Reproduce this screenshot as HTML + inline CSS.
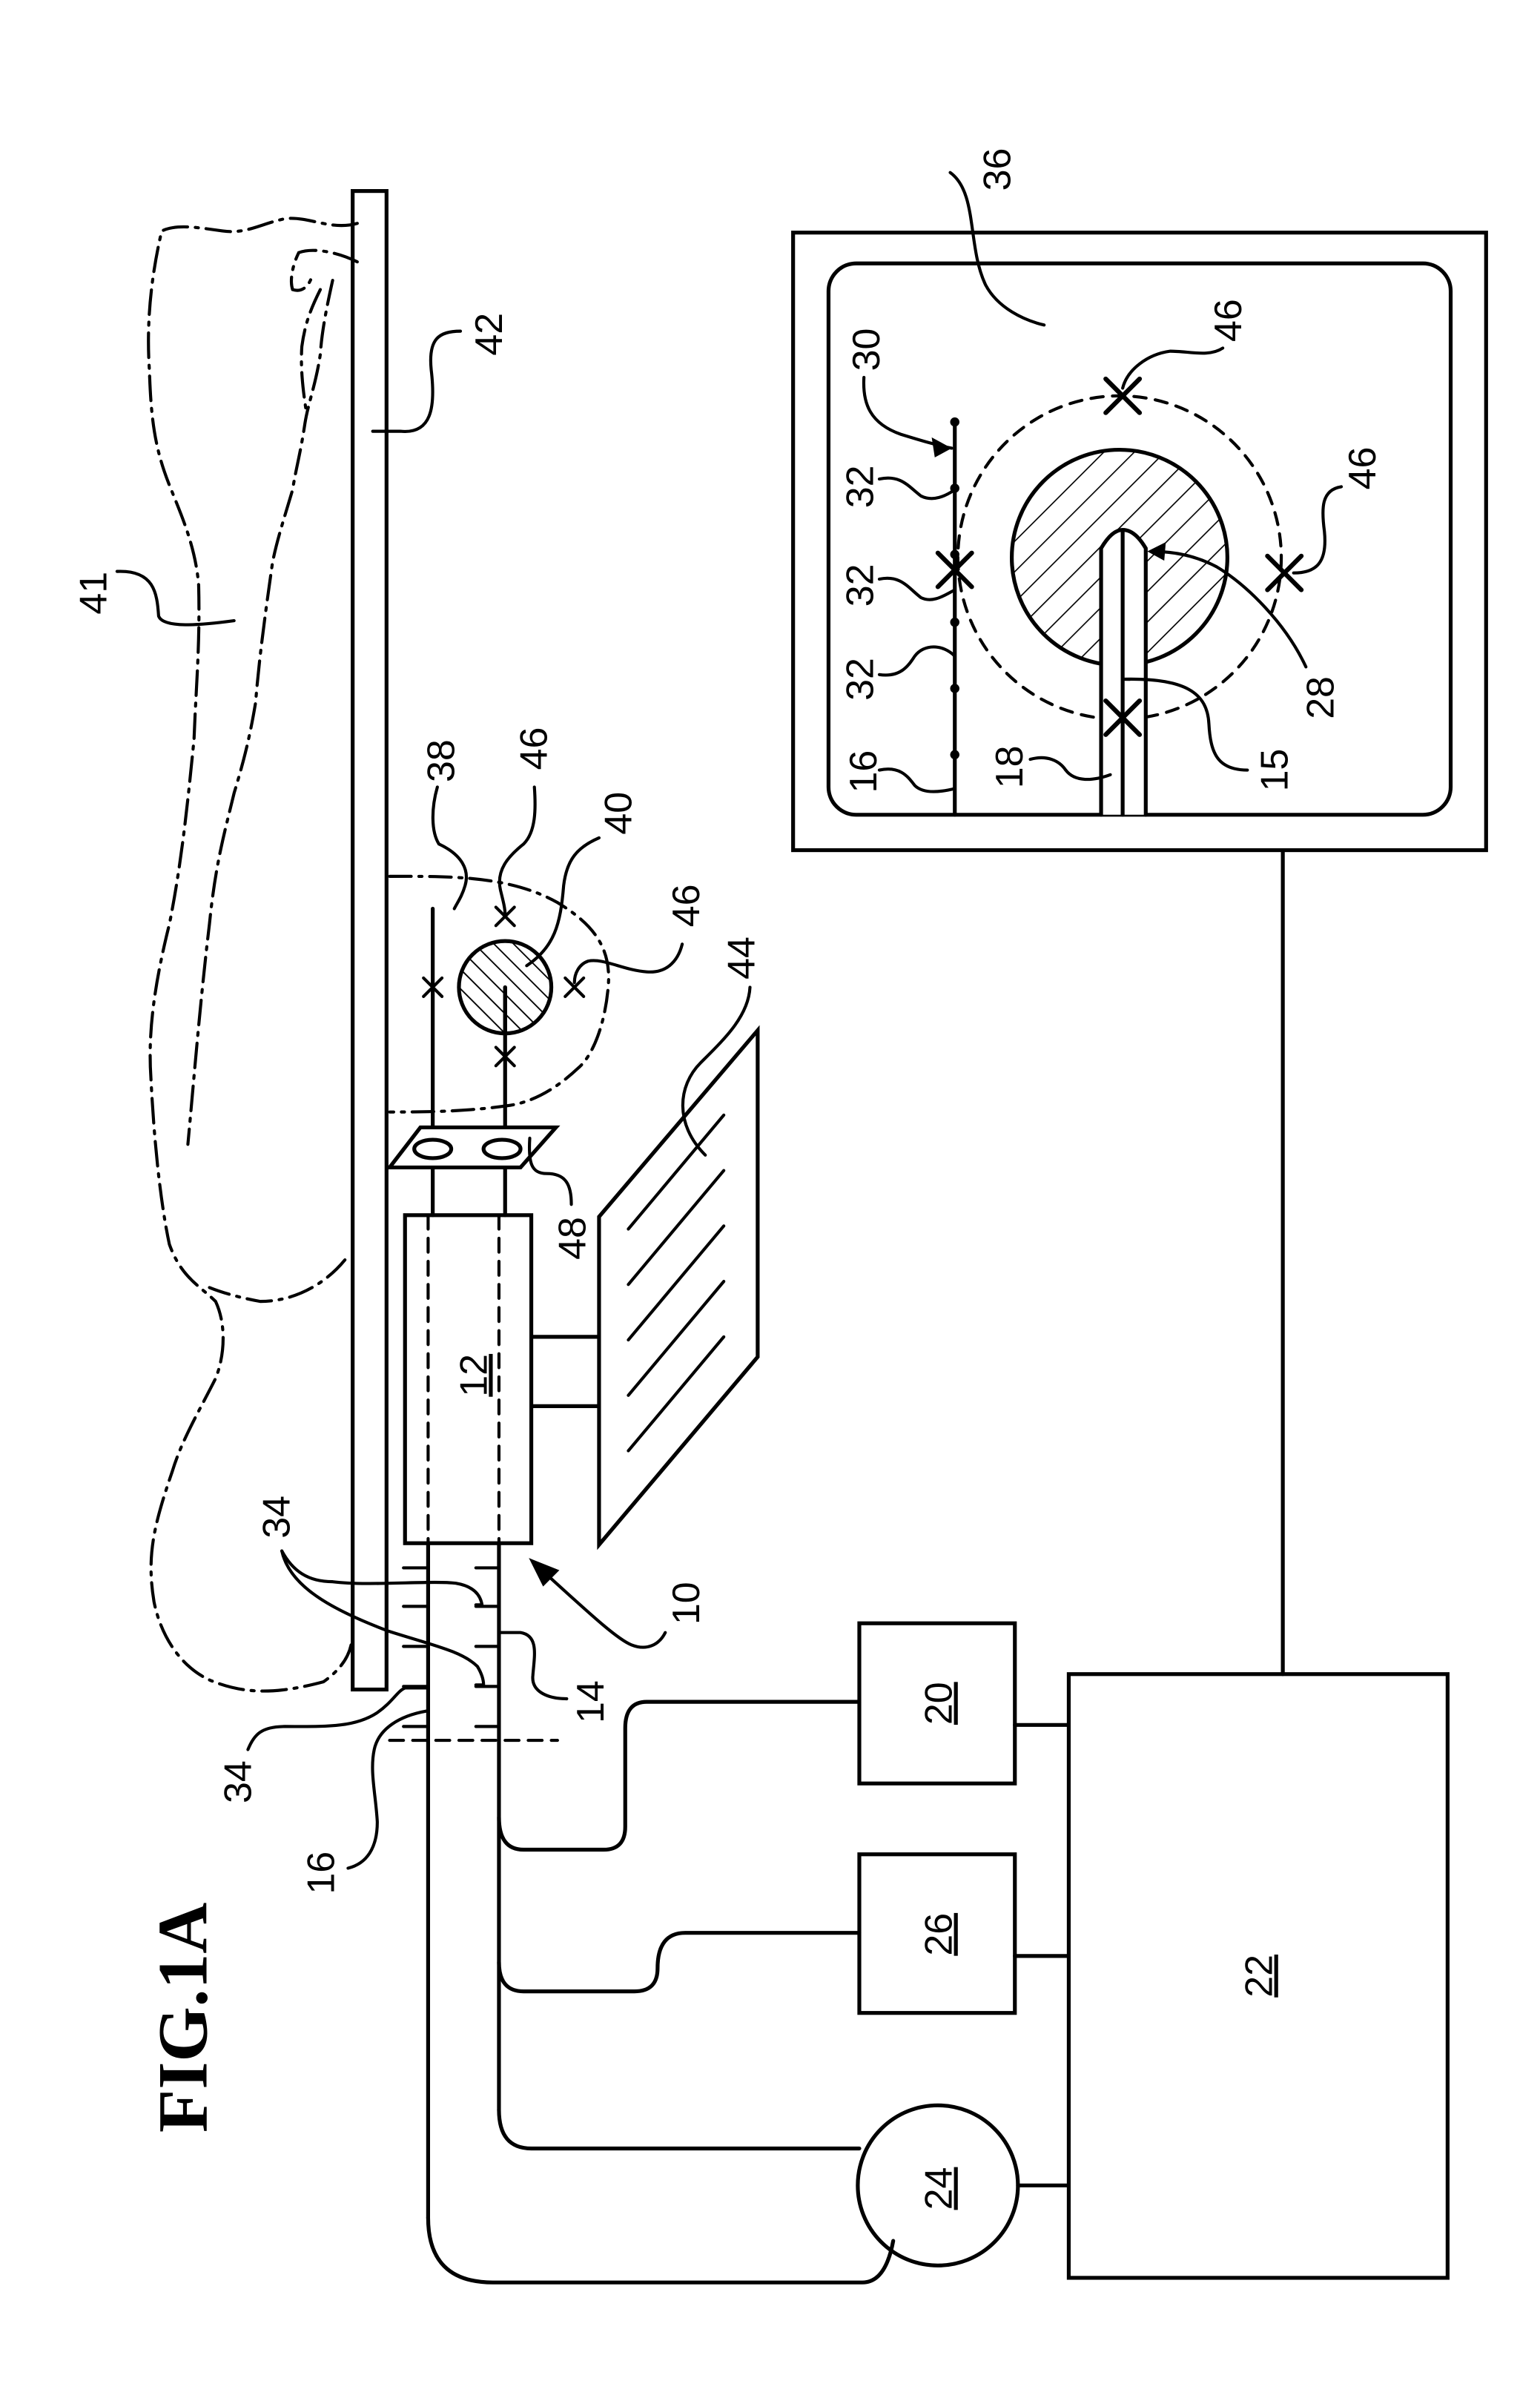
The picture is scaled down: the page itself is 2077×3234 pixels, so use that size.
<!DOCTYPE html>
<html><head><meta charset="utf-8"><style>
html,body{margin:0;padding:0;background:#fff;}
svg{display:block;}
text{font-family:"Liberation Sans",sans-serif;font-size:25px;fill:#000;}
</style></head><body>
<svg width="2077" height="3234" viewBox="0 0 1000 1557" xmlns="http://www.w3.org/2000/svg">
<defs>
<pattern id="h" patternUnits="userSpaceOnUse" width="9" height="9" patternTransform="rotate(-45)">
<line x1="0" y1="0" x2="0" y2="9" stroke="#000" stroke-width="1.8"/></pattern>
<pattern id="h2" patternUnits="userSpaceOnUse" width="14" height="14" patternTransform="rotate(45)">
<line x1="0" y1="0" x2="0" y2="14" stroke="#000" stroke-width="1.6"/></pattern>
</defs>
<g fill="none" stroke="#000" stroke-width="2.5" stroke-linecap="round">
<g stroke-dasharray="16,5,2,5" stroke-width="2">
<path d="M232,145 C215,150 200,140 185,142 C170,145 160,152 145,150 C130,148 115,145 105,150 C98,180 95,210 97,240 C98,270 100,290 110,315 C118,335 127,355 129,380 C130,420 127,450 126,480 C122,520 118,560 110,600 C100,640 96,671 98,700 C100,740 104,780 110,808 C118,830 130,835 140,845 C147,860 146,880 140,895 C130,915 118,935 112,955 C100,990 95,1010 100,1040 C105,1065 120,1085 139,1092 C160,1100 180,1100 210,1092 C220,1085 226,1077 228,1068"/>
<path d="M232,170 C222,165 205,160 194,164 C190,172 188,182 190,188 C196,190 200,186 202,181"/>
<path d="M216,182 C212,200 209,215 208,230 C205,250 200,262 198,275 C195,295 192,305 190,318 C185,335 180,350 177,365 C172,400 168,430 166,456 C162,480 158,495 152,515 C146,540 140,560 136,600 C130,650 126,700 122,743"/>
<path d="M208,188 C202,200 198,210 196,225 C195,240 197,255 199,268"/>
<path d="M224,818 C210,835 190,845 169,845 C158,843 146,840 136,836"/>
</g>
<rect x="229" y="124" width="22" height="973"/>
<path d="M299,215 C285,215 278,220 280,240 C283,265 280,282 260,280 L242,280" stroke-width="2"/>
<path d="M76,371 C100,370 102,385 103,400 C106,408 130,406 152,403" stroke-width="2"/>
<path d="M253,569 C290,569 330,568 362,586 C385,600 397,615 395,640 C393,665 385,685 376,693 C360,708 345,716 329,718 C300,722 275,722 253,722" stroke-dasharray="14,5,2,5" stroke-width="2"/>
<line x1="281" y1="590" x2="281" y2="789"/>
<line x1="328" y1="641" x2="328" y2="789"/>
<circle cx="328" cy="641" r="30" fill="url(#h)"/>
<line x1="328" y1="641" x2="328" y2="671"/>
<path d="M275,635 L287,647 M275,647 L287,635 M322,589 L334,601 M322,601 L334,589 M367,635 L379,647 M367,647 L379,635 M322,680 L334,692 M322,692 L334,680" stroke-width="2"/>
<path d="M284,511 C280,525 280,540 285,548 C300,555 305,565 302,575 C300,582 297,586 295,590" stroke-width="2"/>
<path d="M347,511 C348,525 348,540 340,548 C330,556 322,565 325,578 C327,586 328,590 328,594" stroke-width="2"/>
<path d="M389,544 C375,550 368,558 366,575 C364,600 360,615 342,627" stroke-width="2"/>
<path d="M443,613 C440,625 432,632 420,631 C405,630 392,622 382,624 C376,626 373,632 373,638" stroke-width="2"/>
<polygon points="273,732 361,732 338,758 253,758" fill="#fff"/>
<ellipse cx="281" cy="746" rx="12" ry="6"/><ellipse cx="326" cy="746" rx="12" ry="6"/>
<path d="M344,739 C343,755 345,762 355,762 C368,762 371,770 371,782" stroke-width="2"/>
<rect x="263" y="789" width="82" height="213"/>
<line x1="278" y1="789" x2="278" y2="1002" stroke-dasharray="9,6" stroke-width="2"/>
<line x1="324" y1="789" x2="324" y2="1002" stroke-dasharray="9,6" stroke-width="2"/>
<path d="M345,868 H389 M345,913 H389"/>
<polygon points="389,790 492,669 492,881 389,1003" fill="#fff"/>
<path d="M408,798 L470,724 M408,834 L470,760 M408,870 L470,796 M408,906 L470,832 M408,942 L470,868" stroke-width="2"/>
<path d="M487,641 C486,660 470,675 455,690 C440,705 438,730 458,750" stroke-width="2"/>
<line x1="278" y1="1002" x2="278" y2="1440"/>
<line x1="324" y1="1002" x2="324" y2="1370"/>
<path d="M262,1018 H278 M262,1043 H278 M262,1069 H278 M262,1095 H278 M262,1121 H278 M309,1018 H324 M309,1043 H324 M309,1069 H324 M309,1095 H324 M309,1121 H324" stroke-width="2"/>
<line x1="253" y1="1130" x2="362" y2="1130" stroke-dasharray="9,6" stroke-width="2"/>
<path d="M183,1007 C190,1020 200,1027 216,1027 C240,1030 280,1026 296,1028 C308,1030 312,1036 313,1042 L309,1042" stroke-width="2"/>
<path d="M183,1007 C188,1030 215,1045 252,1059 C280,1068 300,1072 310,1082 C313,1087 314,1091 314,1094 L309,1094" stroke-width="2"/>
<path d="M161,1136 C165,1126 170,1121 185,1121 C210,1121 230,1122 245,1112 C255,1105 258,1098 263,1096 L278,1096" stroke-width="2"/>
<path d="M226,1213 C238,1210 245,1200 245,1183 C244,1165 240,1150 243,1136 C246,1122 260,1114 277,1111" stroke-width="2"/>
<path d="M368,1103 C355,1103 345,1098 346,1088 C347,1075 350,1062 338,1060 L324,1060" stroke-width="2"/>
<path d="M432,1060 C428,1068 420,1072 410,1068 C400,1064 380,1045 348,1016" stroke-width="2"/>
<polygon points="346,1014 361,1020 353,1028" fill="#000"/>
<path d="M278,1440 Q278,1482 320,1482 H560 Q575,1482 580,1455"/>
<path d="M324,1370 Q324,1395 345,1395 H558"/>
<path d="M324,1274 Q324,1293 340,1293 H412 Q427,1293 427,1278 Q427,1255 445,1255 H558"/>
<path d="M324,1180 Q324,1201 340,1201 H392 Q406,1201 406,1186 V1122 Q406,1105 420,1105 H558"/>
<rect x="558" y="1054" width="101" height="104"/>
<rect x="558" y="1204" width="101" height="103"/>
<circle cx="609" cy="1419" r="52"/>
<rect x="694" y="1087" width="246" height="392"/>
<path d="M659,1120 H694 M659,1270 H694 M661,1419 H694 M833,552 V1087"/>
<rect x="515" y="151" width="450" height="401"/>
<rect x="538" y="171" width="404" height="358" rx="18"/>
<circle cx="727" cy="362" r="105" stroke-dasharray="8,6" stroke-width="2"/>
<circle cx="727" cy="362" r="70" fill="url(#h2)"/>
<line x1="620" y1="274" x2="620" y2="529"/>
<path d="M715,529 V356 Q722,344 729,344 Q737,344 744,356 V529 M729,529 V344" fill="#fff"/>
<path d="M609,359 L631,381 M609,381 L631,359 M718,246 L740,268 M718,268 L740,246 M823,361 L845,383 M823,383 L845,361 M718,455 L740,477 M718,477 L740,455" stroke-width="3"/>
<path d="M617,112 C635,125 628,160 640,185 C648,200 665,208 678,211" stroke-width="2"/>
<path d="M794,226 C785,232 772,228 760,228 C745,230 732,240 729,252" stroke-width="2"/>
<path d="M871,316 C858,318 858,330 860,345 C862,365 855,372 840,372" stroke-width="2"/>
<path d="M561,245 C560,262 565,275 585,282 C598,286 608,289 618,291" stroke-width="2"/>
<path d="M571,311 C585,308 590,316 598,322 C606,326 614,322 620,318" stroke-width="2"/>
<path d="M571,376 C585,373 590,382 598,388 C606,392 614,386 620,383" stroke-width="2"/>
<path d="M571,438 C585,440 590,432 594,426 C600,418 612,418 620,426" stroke-width="2"/>
<path d="M571,500 C585,497 590,505 594,510 C600,516 612,514 620,512" stroke-width="2"/>
<path d="M669,493 C680,490 688,494 692,500 C698,508 710,507 721,503" stroke-width="2"/>
<path d="M810,500 C790,500 786,488 785,470 C784,450 770,440 729,441" stroke-width="2"/>
<path d="M848,433 C835,405 810,380 790,368 C775,360 760,358 748,358" stroke-width="2"/>
</g>
<polygon points="618,291 605,284 607,297" fill="#000"/>
<polygon points="745,358 757,352 756,364" fill="#000"/>
<circle cx="620" cy="274" r="3"/><circle cx="620" cy="317" r="3"/><circle cx="620" cy="360" r="3"/><circle cx="620" cy="404" r="3"/><circle cx="620" cy="447" r="3"/><circle cx="620" cy="490" r="3"/>
<g>
<text transform="translate(656,110) rotate(-90)" text-anchor="middle">36</text>
<text transform="translate(806,208) rotate(-90)" text-anchor="middle">46</text>
<text transform="translate(893,304) rotate(-90)" text-anchor="middle">46</text>
<text transform="translate(571,227) rotate(-90)" text-anchor="middle">30</text>
<text transform="translate(567,316) rotate(-90)" text-anchor="middle">32</text>
<text transform="translate(567,380) rotate(-90)" text-anchor="middle">32</text>
<text transform="translate(567,441) rotate(-90)" text-anchor="middle">32</text>
<text transform="translate(569,501) rotate(-90)" text-anchor="middle">16</text>
<text transform="translate(664,498) rotate(-90)" text-anchor="middle">18</text>
<text transform="translate(836,500) rotate(-90)" text-anchor="middle">15</text>
<text transform="translate(866,453) rotate(-90)" text-anchor="middle">28</text>
<text transform="translate(69,385) rotate(-90)" text-anchor="middle">41</text>
<text transform="translate(326,217) rotate(-90)" text-anchor="middle">42</text>
<text transform="translate(295,494) rotate(-90)" text-anchor="middle">38</text>
<text transform="translate(355,486) rotate(-90)" text-anchor="middle">46</text>
<text transform="translate(410,528) rotate(-90)" text-anchor="middle">40</text>
<text transform="translate(454,588) rotate(-90)" text-anchor="middle">46</text>
<text transform="translate(490,622) rotate(-90)" text-anchor="middle">44</text>
<text transform="translate(380,804) rotate(-90)" text-anchor="middle">48</text>
<text transform="translate(188,985) rotate(-90)" text-anchor="middle">34</text>
<text transform="translate(163,1157) rotate(-90)" text-anchor="middle">34</text>
<text transform="translate(217,1216) rotate(-90)" text-anchor="middle">16</text>
<text transform="translate(392,1105) rotate(-90)" text-anchor="middle">14</text>
<text transform="translate(454,1041) rotate(-90)" text-anchor="middle">10</text>
<text transform="translate(316,893) rotate(-90)" text-anchor="middle" text-decoration="underline">12</text>
<text transform="translate(618,1106) rotate(-90)" text-anchor="middle" text-decoration="underline">20</text>
<text transform="translate(618,1256) rotate(-90)" text-anchor="middle" text-decoration="underline">26</text>
<text transform="translate(618,1421) rotate(-90)" text-anchor="middle" text-decoration="underline">24</text>
<text transform="translate(826,1283) rotate(-90)" text-anchor="middle" text-decoration="underline">22</text>
<text transform="translate(134,1310) rotate(-90)" text-anchor="middle" style="font-family:'Liberation Serif',serif;font-size:46px;font-weight:bold">FIG.1A</text>
</g>
</svg>
</body></html>
